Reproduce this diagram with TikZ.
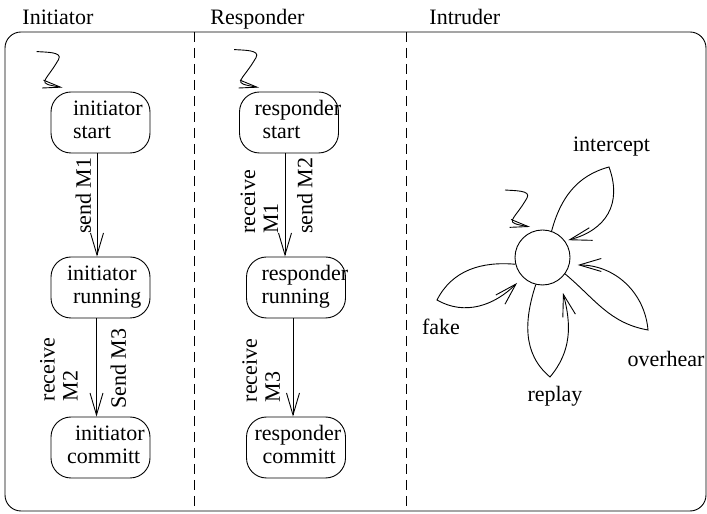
\documentclass[tikz,border=0pt]{standalone}
\usepackage{fontspec}
\setmainfont{Liberation Serif}
\usetikzlibrary{arrows.meta,positioning}

% one line of text inside a state box
\newcommand{\bline}[2]{\makebox[85pt][l]{\hspace*{#1}#2}}

\begin{document}
\begin{tikzpicture}[x=1pt,y=1pt,line width=0.9pt,node distance=165pt,on grid,
    font=\fontsize{22}{23}\selectfont,
    trans/.style={-{Straight Barb[length=22pt,width=13pt]}},
    init/.style={-{Straight Barb[length=18pt,width=8pt]}},
    state/.style={draw,rectangle,rounded corners=20pt,minimum width=99pt,
      minimum height=61pt,inner sep=0pt,align=left,text depth=6pt},
    lbl/.style={rotate=90,inner sep=0pt,align=left},
    title/.style={anchor=base west,inner sep=0pt}]
    \useasboundingbox (0,0) rectangle (707,514);

    % frame and lanes
    \draw[rounded corners=16pt] (5,3) rectangle (706,482);
    \draw[dash pattern=on 10pt off 6pt] (194,482) -- (194,3);
    \draw[dash pattern=on 10pt off 6pt] (406,482) -- (406,3);
    \node[title] (tinit) at (22,489) {Initiator};
    \node[title] (tresp) at (210,489) {Responder};
    \node[title] (tintr) at (429,489) {Intruder};

    % initiator and responder
    \node[state] (initstart) at (100.5,391.5) {\bline{15pt}{initiator}\\\bline{15pt}{start}};
    \node[state] (initrun) [below=of initstart] {\bline{9pt}{initiator}\\\bline{15pt}{running}};
    \node[state] (initcommit) [below=160pt of initrun] {\bline{17pt}{initiator}\\\bline{9pt}{committ}};
    \node[state] (respstart) [right=188.5pt of initstart] {\bline{8pt}{responder}\\\bline{16pt}{start}};
    \node[state] (resprun) [below right=165pt and 7pt of respstart] {\bline{8pt}{responder}\\\bline{8pt}{running}};
    \node[state] (respcommit) [below=160pt of resprun] {\bline{1pt}{responder}\\\bline{9pt}{committ}};

    \draw[trans] ([xshift=-3.5pt]initstart.south) --
      node[lbl,pos=.41,anchor=south,outer ysep=6pt] {send M1} ([xshift=-3.5pt]initrun.north);
    \draw[trans] ([xshift=-4pt]initrun.south) --
      node[lbl,pos=.52,anchor=south,outer ysep=19pt] {receive\\M2}
      node[lbl,pos=.51,anchor=north,outer ysep=14pt] {Send M3} ([xshift=-4pt]initcommit.north);
    \draw[trans] ([xshift=-4pt]respstart.south) --
      node[lbl,pos=.47,anchor=south,outer ysep=7pt] {receive\\M1}
      node[lbl,pos=.41,anchor=north,outer ysep=12pt] {send M2} ([xshift=-11pt]resprun.north);
    \draw[trans] ([xshift=-3pt]resprun.south) --
      node[lbl,pos=.53,anchor=south,outer ysep=13pt] {receive\\M3} ([xshift=-3pt]respcommit.north);

    \coordinate (initin) at ([shift={(-14pt,40pt)}]initstart.north west);
    \coordinate (respin) at ([shift={(-5pt,42pt)}]respstart.north west);
    \draw[init] (initin) to[out=-5,in=60] ++(22pt,-8pt)
      to[out=240,in=170,looseness=2.5] ([shift={(12pt,4pt)}]initstart.north west);
    \draw[init] (respin) to[out=-5,in=60] ++(22pt,-8pt)
      to[out=240,in=170,looseness=2.5] ([shift={(20pt,4pt)}]respstart.north west);

    % intruder
    \node[draw,circle,minimum size=55pt,inner sep=0pt] (intr) at (542.5,256.5) {};
    \coordinate (intrin) at ([shift={(-37.5pt,67.5pt)}]intr.center);
    \draw[init] (intrin) to[out=-5,in=60] ++(22pt,-8pt)
      to[out=240,in=170,looseness=2.5] ([shift={(112:33pt)}]intr.center);

    \draw[trans] (intr.71) to[out=75,in=195] ([shift={(66.5pt,90.5pt)}]intr.center)
      to[out=-70,in=15,looseness=1.2] ([shift={(34:31pt)}]intr.center);
    \draw[trans] (intr.-36) to[out=-40,in=170] ([shift={(105.5pt,-72.5pt)}]intr.center)
      to[out=95,in=0] ([shift={(-12:36pt)}]intr.center);
    \draw[trans] (intr.-104) to[out=-108,in=140] ([shift={(7.5pt,-119.5pt)}]intr.center)
      to[out=50,in=-75] ([shift={(-60:41pt)}]intr.center);
    \draw[trans] (intr.-166) to[out=175,in=63] ([shift={(-105.5pt,-42.5pt)}]intr.center)
      to[out=-30,in=225] ([shift={(-135:36pt)}]intr.center);

    \node[anchor=base] (lintercept) at (611.5,362) {intercept};
    \node[anchor=base] (loverhear) at (666,147) {overhear};
    \node[anchor=base] (lreplay) at (555,112) {replay};
    \node[anchor=base] (lfake) at (441,179) {fake};
\end{tikzpicture}
\end{document}
